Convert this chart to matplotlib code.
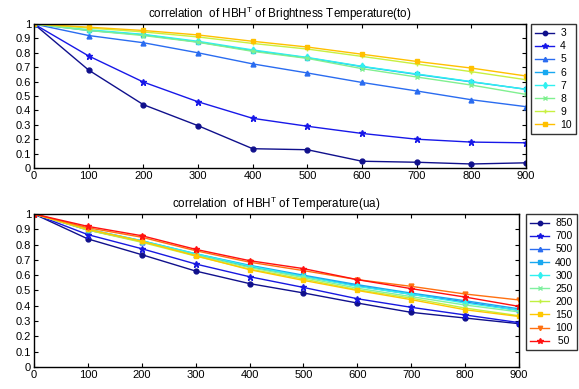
import matplotlib
matplotlib.use('Agg')
import matplotlib.pyplot as plt

plt.rcParams['font.family'] = ['Liberation Sans', 'DejaVu Sans']
plt.rcParams['mathtext.fontset'] = 'custom'
plt.rcParams['mathtext.rm'] = 'Liberation Sans'

x = [0, 100, 200, 300, 400, 500, 600, 700, 800, 900]

# top panel: brightness temperature (to)
to_labels = ['3', '4', '5', '6', '7', '8', '9', '10']
to_vals = [
    [1, 0.68, 0.44, 0.294, 0.134, 0.127, 0.047, 0.04, 0.028, 0.036],
    [1, 0.778, 0.597, 0.46, 0.345, 0.29, 0.24, 0.2, 0.18, 0.175],
    [1, 0.92, 0.87, 0.8, 0.723, 0.66, 0.594, 0.535, 0.474, 0.426],
    [1, 0.955, 0.925, 0.875, 0.815, 0.765, 0.704, 0.65, 0.598, 0.547],
    [1, 0.96, 0.928, 0.88, 0.82, 0.768, 0.706, 0.653, 0.6, 0.546],
    [1, 0.955, 0.92, 0.873, 0.81, 0.761, 0.69, 0.632, 0.576, 0.511],
    [1, 0.972, 0.945, 0.91, 0.865, 0.826, 0.775, 0.722, 0.669, 0.613],
    [1, 0.978, 0.955, 0.924, 0.88, 0.84, 0.79, 0.74, 0.694, 0.639],
]
to_colors = ['#10108c', '#1818e8', '#2a6cf0', '#18a8f0', '#30f0f0',
             '#80f090', '#c8f040', '#ffc000']
to_markers = ['o', '*', '^', 's', 'd', 'x', '+', 's']
to_msize = [3.5, 4.5, 3.5, 3.5, 3.5, 3, 3.5, 2.5]

# bottom panel: temperature (ua)
ua_labels = ['850', '700', '500', '400', '300', '250', '200', '150', '100', ' 50']
ua_vals = [
    [1, 0.837, 0.734, 0.627, 0.545, 0.484, 0.418, 0.357, 0.32, 0.283],
    [1, 0.865, 0.773, 0.673, 0.59, 0.52, 0.446, 0.39, 0.34, 0.29],
    [1, 0.895, 0.82, 0.735, 0.655, 0.595, 0.53, 0.475, 0.425, 0.37],
    [1, 0.9, 0.825, 0.74, 0.665, 0.6, 0.538, 0.483, 0.433, 0.38],
    [1, 0.9, 0.825, 0.74, 0.66, 0.592, 0.527, 0.475, 0.418, 0.37],
    [1, 0.898, 0.82, 0.732, 0.65, 0.585, 0.515, 0.46, 0.405, 0.36],
    [1, 0.895, 0.815, 0.725, 0.64, 0.575, 0.505, 0.45, 0.385, 0.335],
    [1, 0.9, 0.822, 0.727, 0.636, 0.566, 0.5, 0.44, 0.374, 0.33],
    [1, 0.91, 0.848, 0.76, 0.685, 0.63, 0.571, 0.527, 0.477, 0.438],
    [1, 0.919, 0.858, 0.769, 0.695, 0.643, 0.571, 0.512, 0.457, 0.396],
]
ua_colors = ['#10108c', '#1818e0', '#2a6cf0', '#18a8f0', '#30f0f0',
             '#80f0a0', '#c0f040', '#ffc800', '#ff7010', '#ff1010']
ua_markers = ['o', '*', '^', 's', 'd', 'x', '+', 's', 'v', '*']
ua_msize = [3.5, 4.5, 3.5, 3.5, 3.5, 3, 3.5, 2.5, 3.5, 4.5]


def style_axes(ax):
    ax.set_xlim(0, 900)
    ax.set_ylim(0, 1)
    ax.set_xticks(x)
    ax.set_yticks([i / 10 for i in range(11)])
    ax.set_yticklabels(['0', '0.1', '0.2', '0.3', '0.4', '0.5', '0.6', '0.7', '0.8', '0.9', '1'])
    ax.tick_params(direction='in', top=True, right=True, labelsize=8, length=3, width=0.8, pad=2)
    for s in ax.spines.values():
        s.set_linewidth(1.0)


def add_legend(ax, fig, x0, y1):
    leg = ax.legend(loc='upper left', bbox_to_anchor=(x0, y1), bbox_transform=fig.transFigure,
                    fontsize=7.5, frameon=True, fancybox=False, edgecolor='black',
                    borderpad=0.4, labelspacing=0.3, handlelength=1.8, handletextpad=0.6,
                    borderaxespad=0, markerscale=0.9)
    leg.get_frame().set_linewidth(1.0)


fig = plt.figure(figsize=(5.79, 3.89), dpi=100)
ax1 = fig.add_axes([0.0587, 0.5681, 0.8498, 0.3702])
ax2 = fig.add_axes([0.0587, 0.0566, 0.8377, 0.3933])

for vals, lab, c, m, ms in zip(to_vals, to_labels, to_colors, to_markers, to_msize):
    ax1.plot(x, vals, color=c, marker=m, markersize=ms, linewidth=1.0, label=lab)
style_axes(ax1)
ax1.set_title(r'correlation  of HBH$^{\mathrm{T}}$ of Brightness Temperature(to)', fontsize=8.4, pad=4)
add_legend(ax1, fig, 531 / 579, 1 - 24 / 389)

for vals, lab, c, m, ms in zip(ua_vals, ua_labels, ua_colors, ua_markers, ua_msize):
    ax2.plot(x, vals, color=c, marker=m, markersize=ms, linewidth=1.0, label=lab)
style_axes(ax2)
ax2.set_title(r'correlation  of HBH$^{\mathrm{T}}$ of Temperature(ua)', fontsize=8.4, pad=4)
add_legend(ax2, fig, 526 / 579, 1 - 214 / 389)

fig.savefig('out.png', dpi=100)
